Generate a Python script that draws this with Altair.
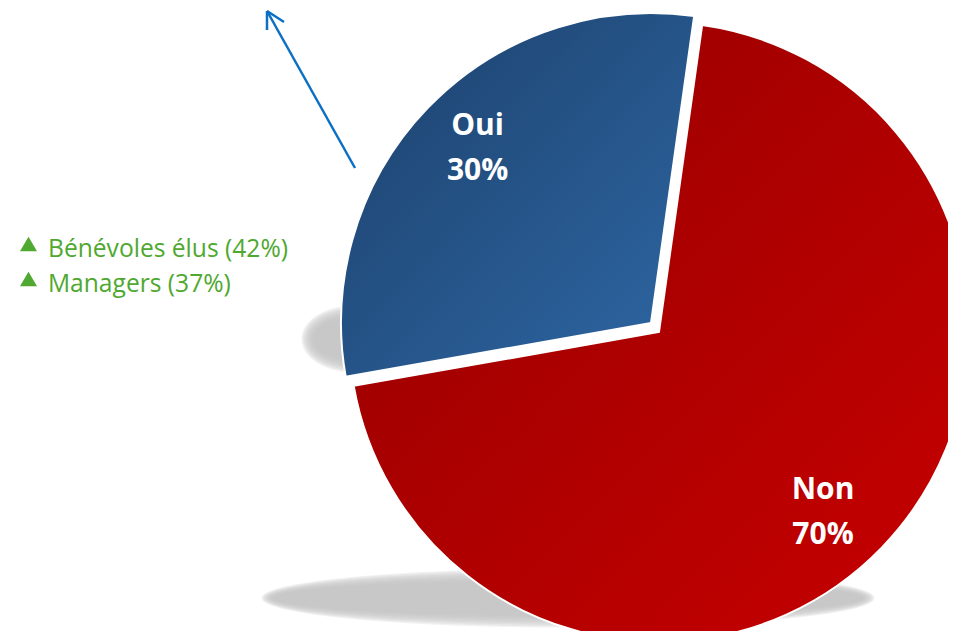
import math
import altair as alt
import pandas as pd

# ---- data ----
categories = ["Non", "Oui"]
values = [70, 30]
order = [0, 1]
labels = ["Non\n70%", "Oui\n30%"]

notes = ["Bénévoles élus (42%)", "Managers (37%)"]
note_rows = [0, 1]

df = pd.DataFrame({"cat": categories, "value": values, "order": order, "label": labels})
notes_df = pd.DataFrame({"note": notes, "row": note_rows})
one = pd.DataFrame({"k": [0]})

# ---- layout / style ----
CX, CY = 651, 324          # pie centre (chart px)
R = 310
EXPLODE_X, EXPLODE_Y = -8, -9
start_angle = math.radians(8)
theta_scale = alt.Scale(domain=[0, 100], range=[start_angle, start_angle + 2 * math.pi])

red_grad = alt.Gradient(
    gradient="linear",
    stops=[alt.GradientStop(color="#940000", offset=0),
           alt.GradientStop(color="#c80000", offset=1)],
    x1=0, y1=0, x2=1, y2=1,
)
blue_grad = alt.Gradient(
    gradient="linear",
    stops=[alt.GradientStop(color="#1c406b", offset=0),
           alt.GradientStop(color="#2e67a4", offset=1)],
    x1=0, y1=0, x2=1, y2=1,
)

base = (
    alt.Chart(df)
    .transform_window(end="sum(value)", frame=[None, 0], sort=[alt.SortField("order")])
    .transform_calculate(start="datum.end - datum.value", mid="datum.end - datum.value / 2")
)

# ---- soft shadows (stacked translucent ellipses) ----
def ellipse_path(k):
    return f"M-1,0A1,{k:.4f},0,1,0,1,0A1,{k:.4f},0,1,0,-1,0Z"

def soft_ellipse(cx, cy, rx, ry, steps=10, step=1.4, alpha=0.22):
    layers = []
    for i in range(steps):
        ex = rx + i * step
        ey = ry + i * step
        layers.append(
            alt.Chart(one).mark_point(
                shape=ellipse_path(ey / ex), filled=True, size=(2 * ex) ** 2,
                color="#c2c2c2", opacity=alpha, strokeWidth=0,
            ).encode(x=alt.value(cx), y=alt.value(cy))
        )
    return layers

shadow_layers = soft_ellipse(560, 590, 294, 17) + soft_ellipse(346, 331, 40, 21)

# ---- pie slices ----
non_arc = (
    base.transform_filter("datum.cat == 'Non'")
    .mark_arc(outerRadius=R, fill=red_grad, stroke="white", strokeWidth=2)
    .encode(
        theta=alt.Theta("start:Q", scale=theta_scale),
        theta2="end:Q",
        x=alt.value(CX), y=alt.value(CY),
    )
)
oui_arc = (
    base.transform_filter("datum.cat == 'Oui'")
    .mark_arc(outerRadius=R, fill=blue_grad, stroke="white", strokeWidth=2)
    .encode(
        theta=alt.Theta("start:Q", scale=theta_scale),
        theta2="end:Q",
        x=alt.value(CX + EXPLODE_X), y=alt.value(CY + EXPLODE_Y),
    )
)

label_style = dict(font="Open Sans", fontWeight="bold", fontSize=30, color="white",
                   lineBreak="\n", lineHeight=45, align="center", baseline="middle")
non_label = (
    base.transform_filter("datum.cat == 'Non'")
    .mark_text(radius=228, **label_style)
    .encode(theta=alt.Theta("mid:Q", scale=theta_scale), text="label:N",
            x=alt.value(CX), y=alt.value(CY))
)
oui_label = (
    base.transform_filter("datum.cat == 'Oui'")
    .mark_text(radius=255, dx=10, dy=-20, **label_style)
    .encode(theta=alt.Theta("mid:Q", scale=theta_scale), text="label:N",
            x=alt.value(CX + EXPLODE_X), y=alt.value(CY + EXPLODE_Y))
)

# ---- green notes ----
note_y = alt.Y("row:Q", scale=alt.Scale(domain=[0, 1], range=[249, 284]), axis=None)
note_text = alt.Chart(notes_df).mark_text(
    font="Open Sans", fontSize=24.6, color="#4fa82f", align="left", baseline="alphabetic",
).encode(x=alt.value(40), y=note_y, text="note:N")
note_tri = alt.Chart(notes_df).mark_point(
    shape="triangle-up", filled=True, size=290, color="#4fa82f", opacity=1, yOffset=-13,
).encode(x=alt.value(20.5), y=note_y)

# ---- arrow ----
arrow_col = "#0b70c4"
arrow_shaft = alt.Chart(one).mark_rule(color=arrow_col, strokeWidth=2.5).encode(
    x=alt.value(347), y=alt.value(160), x2=alt.value(259), y2=alt.value(3))
arrow_h1 = alt.Chart(one).mark_rule(color=arrow_col, strokeWidth=2.5).encode(
    x=alt.value(259), y=alt.value(3), x2=alt.value(259), y2=alt.value(22))
arrow_h2 = alt.Chart(one).mark_rule(color=arrow_col, strokeWidth=2.5).encode(
    x=alt.value(259), y=alt.value(3), x2=alt.value(276), y2=alt.value(14))

chart = (
    alt.layer(*shadow_layers, non_arc, oui_arc, non_label, oui_label,
              note_tri, note_text, arrow_shaft, arrow_h1, arrow_h2)
    .properties(width=940, height=623, padding=0,
                autosize=alt.AutoSizeParams(type="none"), background="white")
    .configure_view(stroke=None)
)

chart.save("out.html", embed_options={"renderer": "svg", "actions": False})
